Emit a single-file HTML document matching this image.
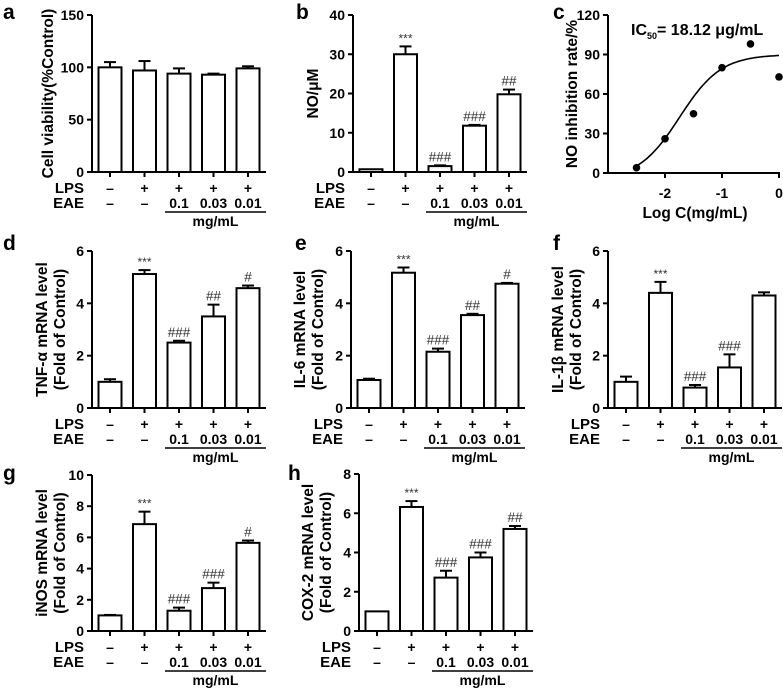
<!DOCTYPE html>
<html><head><meta charset="utf-8"><style>
html,body{margin:0;padding:0;background:#fff;}
svg{display:block;font-family:"Liberation Sans",Arial,sans-serif;}
</style></head><body>
<svg id="fig" width="783" height="690" viewBox="0 0 783 690" xmlns="http://www.w3.org/2000/svg"></svg>
<script>
// ---- data ----
const lpsRow = ["–","+","+","+","+"];
const eaeRow = ["–","–","0.1","0.03","0.01"];
const aVals = [100,97,94,93,99];
const aErr = [5,9,5,1,2];
const aMarks = ["","","","",""];
const bVals = [0.7,30,1.5,11.8,19.8];
const bErr = [0,2,0.2,0.2,1.2];
const bMarks = ["","***","###","###","##"];
const dVals = [1.0,5.12,2.5,3.5,4.58];
const dErr = [0.1,0.15,0.07,0.45,0.1];
const dMarks = ["","***","###","##","#"];
const eVals = [1.07,5.17,2.15,3.55,4.75];
const eErr = [0.05,0.2,0.12,0.05,0.03];
const eMarks = ["","***","###","##","#"];
const fVals = [1.0,4.4,0.78,1.55,4.3];
const fErr = [0.2,0.42,0.1,0.5,0.12];
const fMarks = ["","***","###","###",""];
const gVals = [1.0,6.85,1.3,2.75,5.65];
const gErr = [0.03,0.8,0.2,0.35,0.15];
const gMarks = ["","***","###","###","#"];
const hVals = [1.0,6.32,2.72,3.75,5.2];
const hErr = [0,0.3,0.35,0.25,0.15];
const hMarks = ["","***","###","###","##"];
const cLogC = [-2.5,-2,-1.5,-1,-0.5,0];
const cRate = [4,26,45,80,98,73];
const cYTicks = [0,30,60,90,120];
const cXTicks = [-2,-1,0];
const cTop = 90, cBottom = -5, cLogIC50 = Math.log10(0.01812), cHill = 1.2;

const NS="http://www.w3.org/2000/svg";
const svg=document.getElementById('fig');
function el(tag,attrs,parent,text){
  const e=document.createElementNS(NS,tag);
  for(const k in attrs) e.setAttribute(k,attrs[k]);
  if(text!==undefined) e.textContent=text;
  (parent||svg).appendChild(e);
  return e;
}

function barPanel(id,letter,letterX,letterY,axX,top,zero,ymax,ticks,vals,errs,marks,labels,labelX){
  const g=el('g',{});
  
  
  const ys=v=>zero-(v/ymax)*(zero-top);
  const xs=i=>axX+18+i*34.5;
  const right=axX+174;
  const lt=el('text',{x:letterX,y:letterY,'font-size':21,'font-weight':'bold'},g,letter);
  
  
  const ya=el('line',{x1:axX,y1:top,x2:axX,y2:zero,stroke:'#000','stroke-width':2},g);
  
  
  ticks.forEach(t=>{
    el('line',{x1:axX-5,y1:ys(t),x2:axX,y2:ys(t),stroke:'#000','stroke-width':2},g);
    const tl=el('text',{x:axX-8,y:ys(t)+5,'font-size':14,'font-weight':'bold','text-anchor':'end'},g,String(t));
    
    
  });
  const xa=el('line',{x1:axX-1,y1:zero,x2:right,y2:zero,stroke:'#000','stroke-width':2},g);
  
  
  vals.forEach((v,i)=>{
    const cx=xs(i), w=23;
    el('line',{x1:cx,y1:zero,x2:cx,y2:zero+5,stroke:'#000','stroke-width':2},g);
    const e=errs[i];
    if(e>0){
      el('line',{x1:cx,y1:ys(v),x2:cx,y2:ys(v+e),stroke:'#000','stroke-width':2},g);
      el('line',{x1:cx-6,y1:ys(v+e),x2:cx+6,y2:ys(v+e),stroke:'#000','stroke-width':2},g);
    }
    const r=el('rect',{x:cx-w/2,y:ys(v),width:w,height:zero-ys(v),fill:'#fff',stroke:'#000','stroke-width':2},g);
    
    
    if(marks[i]){
      const star=marks[i][0]==='*';
      const m=el('text',{x:cx,y:ys(v+e)-(star?4:4),'font-size':star?12:13.5,'text-anchor':'middle',fill:'#333'},g,marks[i]);
      
      
    }
    const l1=el('text',{x:cx,y:zero+21,'font-size':14,'font-weight':'bold','text-anchor':'middle'},g,lpsRow[i]);
    
    
    const l2=el('text',{x:cx,y:zero+36,'font-size':14,'font-weight':'bold','text-anchor':'middle'},g,eaeRow[i]);
    
    
  });
  const lp=el('text',{x:axX-8,y:zero+21,'font-size':15,'font-weight':'bold','text-anchor':'end'},g,'LPS');
  
  
  const ea=el('text',{x:axX-8,y:zero+36,'font-size':15,'font-weight':'bold','text-anchor':'end'},g,'EAE');
  
  
  el('line',{x1:axX+73,y1:zero+40,x2:right,y2:zero+40,stroke:'#000','stroke-width':1.5},g);
  const mg=el('text',{x:(axX+73+right)/2,y:zero+54,'font-size':14,'font-weight':'bold','text-anchor':'middle'},g,'mg/mL');
  
  
  const cy=(top+zero)/2;
  if(labels.length===1){
    const t=el('text',{x:labelX,y:cy,'font-size':15.5,'font-weight':'bold','text-anchor':'middle',transform:`rotate(-90 ${labelX} ${cy})`},g,labels[0]);
    
    
  } else {
    labels.forEach((s,k)=>{
      const x=labelX+k*18;
      const t=el('text',{x:x,y:cy,'font-size':15.5,'font-weight':'bold','text-anchor':'middle',transform:`rotate(-90 ${x} ${cy})`},g,s);
      
      
    });
  }
}

barPanel('a','a',3,19,92,15,172,150,[0,50,100,150],aVals,aErr,aMarks,['Cell viability(%Control)'],53);
barPanel('b','b',296,19,353,15,172,40,[0,10,20,30,40],bVals,bErr,bMarks,['NO/μM'],318);
barPanel('d','d',3,250,92,251,408,6,[0,2,4,6],dVals,dErr,dMarks,['TNF-α mRNA level','(Fold of Control)'],47);
barPanel('e','e',295,250,351,251,408,6,[0,2,4,6],eVals,eErr,eMarks,['IL-6 mRNA level','(Fold of Control)'],305);
barPanel('f','f',553,250,608,251,408,6,[0,2,4,6],fVals,fErr,fMarks,['IL-1β mRNA level','(Fold of Control)'],563);
barPanel('g','g',3,480,92,475,631,10,[0,2,4,6,8,10],gVals,gErr,gMarks,['iNOS mRNA level','(Fold of Control)'],47);
barPanel('h','h',288,480,359,474,631,8,[0,2,4,6,8],hVals,hErr,hMarks,['COX-2 mRNA level','(Fold of Control)'],313);

// ---- panel c ----
(function(){
  const g=el('g',{});
  
  
  const axX=608, top=15, zero=173;
  const xs=v=>779+57*v;
  const ys=v=>zero-(v/120)*(zero-top);
  const lt=el('text',{x:553,y:19,'font-size':21,'font-weight':'bold'},g,'c');
  
  
  el('line',{x1:axX,y1:top,x2:axX,y2:zero,stroke:'#000','stroke-width':2},g);
  el('line',{x1:axX-1,y1:zero,x2:780,y2:zero,stroke:'#000','stroke-width':2},g);
  cYTicks.forEach(t=>{
    el('line',{x1:axX-5,y1:ys(t),x2:axX,y2:ys(t),stroke:'#000','stroke-width':2},g);
    const tl=el('text',{x:axX-8,y:ys(t)+5,'font-size':14,'font-weight':'bold','text-anchor':'end'},g,String(t));
    
    
  });
  cXTicks.forEach(t=>{
    el('line',{x1:xs(t),y1:zero,x2:xs(t),y2:zero+5,stroke:'#000','stroke-width':2},g);
    const tl=el('text',{x:xs(t),y:zero+25,'font-size':14,'font-weight':'bold','text-anchor':'middle'},g,String(t));
    
    
  });
  let d='';
  for(let k=0;k<=60;k++){
    const lx=-2.5+2.5*k/60;
    const y=cBottom+(cTop-cBottom)/(1+Math.pow(10,(cLogIC50-lx)*cHill));
    d+=(k?'L':'M')+xs(lx).toFixed(1)+' '+ys(y).toFixed(1);
  }
  const c=el('path',{d:d,fill:'none',stroke:'#000','stroke-width':1.6},g);
  
  
  cLogC.forEach((v,i)=>{
    const p=el('circle',{cx:xs(v),cy:ys(cRate[i]),r:3.8,fill:'#000'},g);
    
    
  });
  const xt=el('text',{x:695,y:218,'font-size':15.5,'font-weight':'bold','text-anchor':'middle'},g,'Log C(mg/mL)');
  
  
  const yt=el('text',{x:577,y:94,'font-size':15.5,'font-weight':'bold','text-anchor':'middle',transform:'rotate(-90 577 94)'},g,'NO inhibition rate/%');
  
  
  const ic=el('text',{x:631,y:35,'font-size':16,'font-weight':'bold'},g);
  
  
  el('tspan',{},ic,'IC');
  el('tspan',{'font-size':9,dy:4},ic,'50');
  el('tspan',{dy:-4},ic,'= 18.12 μg/mL');
})();
</script>
</body></html>
